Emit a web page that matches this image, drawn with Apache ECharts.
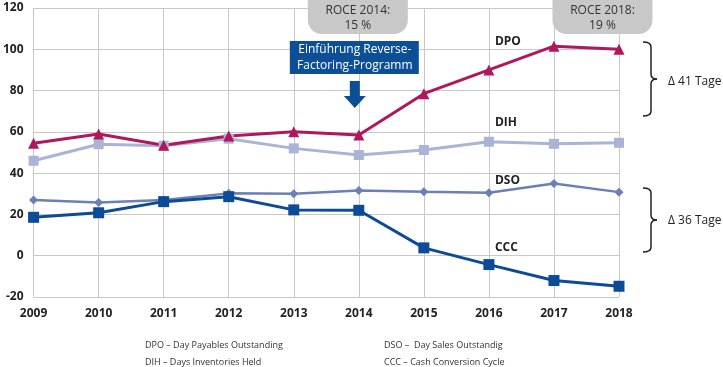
<!DOCTYPE html>
<html><head><meta charset="utf-8">
<script src="https://cdn.jsdelivr.net/npm/echarts@6/dist/echarts.min.js"></script>
<style>html,body{margin:0;padding:0;background:#fff}#c{width:723px;height:367px}</style>
</head><body><div id="c"></div>
<script>
const years = ['2009','2010','2011','2012','2013','2014','2015','2016','2017','2018'];
const dpo = [54.5, 59, 53.5, 58, 60, 58.5, 78.5, 90, 101.5, 100];
const dih = [46, 54, 53.3, 56.7, 52, 48.8, 51.2, 55.2, 54.2, 54.7];
const dso = [27, 25.8, 27, 30.2, 30, 31.6, 31, 30.5, 35, 30.8];
const ccc = [18.6, 20.8, 26.2, 28.6, 22.2, 22, 3.8, -4.3, -12, -14.8];
const yTicks = [-20, 0, 20, 40, 60, 80, 100, 120];

const FONT = '"Open Sans", "Noto Sans", sans-serif';
const chart = echarts.init(document.getElementById('c'));
const C_DPO = '#b0175c', C_DIH = '#a9b4d6', C_DSO = '#6b7fb8', C_CCC = '#0d4b96';

function ser(name, data, color, symbol, size, width) {
  return { name, type: 'line', data, symbol, symbolSize: size, showSymbol: true,
    lineStyle: { color, width }, itemStyle: { color }, animation: false, z: 3 };
}

chart.setOption({
  animation: false,
  textStyle: { fontFamily: FONT },
  grid: { left: 30, right: 104, top: 8, bottom: 70 },
  xAxis: {
    type: 'category', data: years, boundaryGap: false,
    axisLine: { show: true, lineStyle: { color: '#c8c8c8', width: 1 } },
    axisTick: { show: false },
    axisLabel: { color: '#222', fontWeight: 'bold', fontSize: 12, margin: 11, fontFamily: FONT },
    splitLine: { show: true, lineStyle: { color: '#c8c8c8', width: 1 } }
  },
  yAxis: {
    type: 'value', min: yTicks[0], max: yTicks[yTicks.length - 1], interval: 20,
    axisLine: { show: false }, axisTick: { show: false },
    axisLabel: { color: '#222', fontWeight: 'bold', fontSize: 12, margin: 10, fontFamily: FONT,
      formatter: v => yTicks.includes(v) ? String(v) : '' },
    splitLine: { lineStyle: { color: '#c8c8c8', width: 1 } }
  },
  series: [
    ser('DIH', dih, C_DIH, 'rect', 10, 3),
    ser('DSO', dso, C_DSO, 'diamond', 9, 2.5),
    ser('CCC', ccc, C_CCC, 'rect', 11, 3),
    ser('DPO', dpo, C_DPO, 'triangle', 11, 3)
  ]
});

const px = (i, v) => chart.convertToPixel({ gridIndex: 0 }, [i, v]);
const x2014 = px(5, 0)[0], x2016 = px(7, 0)[0], x2017 = px(8, 0)[0], x2018 = px(9, 0)[0];
const lab = (text, x, y, size, weight, color, align) => ({
  type: 'text', z: 10, style: { text, x, y, fill: color || '#222', font: (weight || 'normal') + ' ' + size + 'px ' + FONT,
    textAlign: align || 'left', textVerticalAlign: 'middle' } });

function bracket(xl, top, bot) {
  const mid = (top + bot) / 2, xr = xl + 8, r = 5;
  const st = { stroke: '#222', lineWidth: 1.5, fill: 'none' };
  const bz = (x1, y1, x2, y2, cx, cy) => ({ type: 'bezierCurve', z: 10, shape: { x1, y1, x2, y2, cpx1: cx, cpy1: cy }, style: st });
  const ln = (x1, y1, x2, y2) => ({ type: 'line', z: 10, shape: { x1, y1, x2, y2 }, style: st });
  return [
    bz(xl, top, xr, top + r, xr, top),
    ln(xr, top + r, xr, mid - r),
    bz(xr, mid - r, xr + 6, mid, xr, mid),
    bz(xr + 6, mid, xr, mid + r, xr, mid),
    ln(xr, mid + r, xr, bot - r),
    bz(xr, bot - r, xl, bot, xr, bot)
  ];
}

const cx18 = (x2017 + x2018) / 2 + 16;
chart.setOption({ graphic: [
  { type: 'rect', z: 10, shape: { x: x2014 - 51, y: -14, width: 100, height: 48, r: 14 }, style: { fill: '#c8c8c8' } },
  lab('ROCE 2014:', x2014 - 1, 11, 12, 'normal', '#333', 'center'),
  lab('15 %', x2014 - 1, 26, 12, 'normal', '#333', 'center'),
  { type: 'rect', z: 10, shape: { x: cx18 - 50, y: -14, width: 100, height: 48, r: 14 }, style: { fill: '#c8c8c8' } },
  lab('ROCE 2018:', cx18, 11, 12, 'normal', '#333', 'center'),
  lab('19 %', cx18, 26, 12, 'normal', '#333', 'center'),
  { type: 'rect', z: 10, shape: { x: x2014 - 69, y: 41, width: 129, height: 33 }, style: { fill: '#0d4f96' } },
  lab('Einführung Reverse-', x2014 - 4, 50, 12, 'normal', '#fff', 'center'),
  lab('Factoring-Programm', x2014 - 4, 66, 12, 'normal', '#fff', 'center'),
  { type: 'polygon', z: 10, shape: { points: [[x2014 - 9, 81], [x2014 + 1, 81], [x2014 + 1, 96], [x2014 + 7, 96], [x2014 - 4, 108], [x2014 - 15, 96], [x2014 - 9, 96]] }, style: { fill: '#0d4f96' } },
  lab('DPO', x2016 + 6, 42, 12, 'bold', '#222'),
  lab('DIH', x2016 + 6, 123, 12, 'bold', '#222'),
  lab('DSO', x2016 + 6, 181, 12, 'bold', '#222'),
  lab('CCC', x2016 + 6, 248, 12, 'bold', '#222'),
  ...bracket(643, 42, 116),
  ...bracket(643, 188, 252),
  lab('Δ 41 Tage', 668, 82, 12, 'normal', '#222'),
  lab('Δ 36 Tage', 668, 221, 12, 'normal', '#222'),
  lab('DPO – Day Payables Outstanding', 145, 345, 9, 'normal', '#333'),
  lab('DIH – Days Inventories Held', 145, 362, 9, 'normal', '#333'),
  lab('DSO –  Day Sales Outstandig', 384, 345, 9, 'normal', '#333'),
  lab('CCC – Cash Conversion Cycle', 384, 362, 9, 'normal', '#333')
]});
</script></body></html>
